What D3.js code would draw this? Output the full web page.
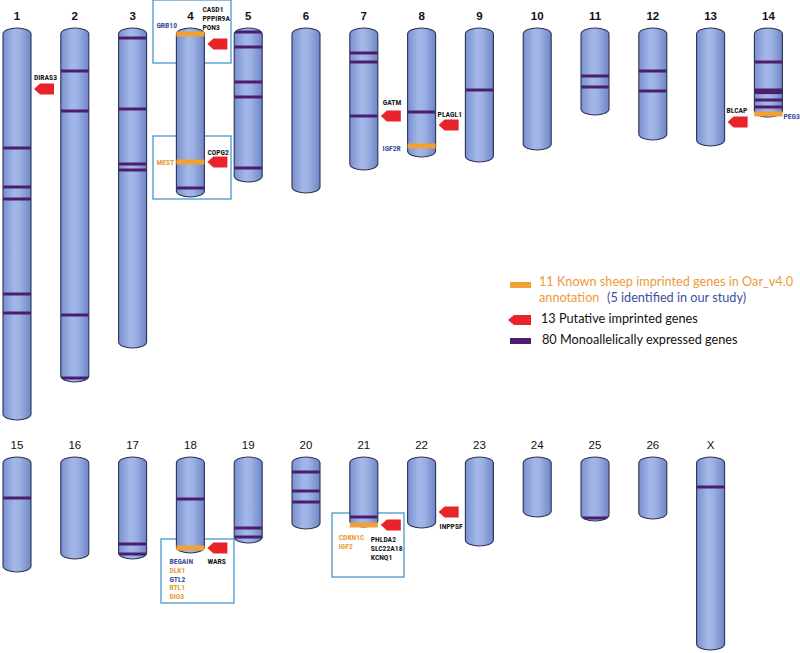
<!DOCTYPE html>
<html><head><meta charset="utf-8">
<script src="https://cdn.jsdelivr.net/npm/d3@7"></script>
<style>body{margin:0;background:#fff}svg{display:block}</style>
</head><body>
<script>
// ---- data (positions in Mb from the top of each chromosome) ----
const chromosomes = ["1","2","3","4","5","6","7","8","9","10","11","12","13","14",
                     "15","16","17","18","19","20","21","22","23","24","25","26","X"];
const lengths = [274.4,247.8,224,118.3,107.8,115.5,99.4,90.3,93.8,85.4,60.9,78.4,82.6,62.3,
                 80.5,71.4,71.4,67.2,60.2,50.4,49,49.7,62.3,42,44.8,43.4,135.1];
// monoallelically expressed genes (purple bands)
const monoChr = ["1","1","1","1","1","2","2","2","2","3","3","3","3","4",
                 "5","5","5","5","5","7","7","7","8","9","11","11","12","12",
                 "14","14","14","14","14","15","17","17","18","19","19","20","20","20","21","25","X"];
const monoPos = [84,111.3,119.7,186.2,199.5,30.1,58.1,200.9,245,7,56.7,95.2,99.4,112,
                 2.8,13.3,37.8,48.3,98,17.5,23.8,61.6,58.8,43.4,33.6,41.3,30.1,44.1,
                 23.8,43.4,45.2,50.4,55.3,28.7,60.9,67.9,29.4,49.7,56,10.5,23.8,31.5,42,42.7,21];
// known imprinted genes (orange bands)
const knownChr = ["4","4","8","14","18","21"];
const knownPos = [4.2,93.8,82.6,60.2,63.7,47.6];
const knownGenes = [["GRB10"],["MEST"],["IGF2R"],["PEG3"],["BEGAIN","DLK1","GTL2","RTL1","DIO3"],["CDKN1C","IGF2"]];
const knownIdentified = ["GRB10","IGF2R","PEG3","BEGAIN","GTL2"];
// putative imprinted genes (red arrows)
const putChr = ["1","4","4","7","8","13","18","21","22"];
const putPos = [42.7,11.2,93.8,61.6,67.9,65.8,63.7,47.6,38.5];
const putGenes = [["DIRAS3"],["CASD1","PPPIR9A","PON3"],["COPG2"],["GATM"],["PLAGL1"],["BLCAP"],["WARS"],["PHLDA2","SLC22A18","KCNQ1"],["INPPSF"]];
// legend
const legendText = ["11 Known sheep imprinted genes in Oar_v4.0","annotation","(5 identified in our study)",
                    "13 Putative imprinted genes","80 Monoallelically expressed genes"];

// ---- layout (styles / label placement) ----
const W = 800, H = 653, CW = 28;
const putLabelLayout = [ // dx from arrow start, dy of first line from arrow centre
  {dx:0, dy:-12}, {dx:-5, dy:-35}, {dx:0, dy:-10}, {dx:2, dy:-14}, {dx:-1, dy:-11},
  {dx:-1, dy:-12}, {dx:0, dy:13}, {dx:-10, dy:14}, {dx:1, dy:14}];
const knownLabelLayout = [ // dx from chromosome centre, dy from band
  {dx:-34, dy:-8.5}, {dx:-34, dy:0}, {dx:-39, dy:2.5},
  {dx:15, dy:2.5}, {dx:-21, dy:13.5}, {dx:-25, dy:12.5}];
const boxes = [ // [x0,y0,x1,y1]
  [153,0,231,63],[153,136,231,199],[161,539,234,603],[332,513,404,577]];

const COL_MONO = "#4e1c6e", COL_KNOWN = "#f0a035", COL_PUT = "#e8232a",
      COL_BLUE = "#3a4f9e", COL_ORANGE = "#ec9a3c", COL_BOX = "#4b96cf";

const svg = d3.select("body").append("svg").attr("width", W).attr("height", H);
const defs = svg.append("defs");
const grad = defs.append("linearGradient").attr("id","chrGrad").attr("x1","0").attr("x2","1").attr("y1","0").attr("y2","0");
grad.append("stop").attr("offset","0%").attr("stop-color","#7890cf");
grad.append("stop").attr("offset","40%").attr("stop-color","#a4b7e8");
grad.append("stop").attr("offset","60%").attr("stop-color","#9db1e4");
grad.append("stop").attr("offset","100%").attr("stop-color","#6e86c6");

const xScale = d3.scalePoint().domain(d3.range(14)).range([17, 768.4]);
const yTop = d3.scaleLinear().domain([0,280]).range([28, 428]);
const yBot = d3.scaleLinear().domain([0,280]).range([457, 857]);
const idx = c => chromosomes.indexOf(c);
const xOf = c => xScale(idx(c) < 14 ? idx(c) : idx(c) - 14);
const yOf = (c, v) => (idx(c) < 14 ? yTop : yBot)(v);

function chrPath(c) {
  const cx = xOf(c), x0 = cx - CW/2, x1 = cx + CW/2;
  const t = yOf(c, 0), b = yOf(c, lengths[idx(c)]), ry = 6, rx = CW/2;
  return `M${x0},${t+ry} A${rx},${ry} 0 0 1 ${x1},${t+ry} L${x1},${b-ry} A${rx},${ry} 0 0 1 ${x0},${b-ry} Z`;
}

// boxes
svg.append("g").selectAll("rect").data(boxes).join("rect")
  .attr("x", d=>d[0]).attr("y", d=>d[1]).attr("width", d=>d[2]-d[0]).attr("height", d=>d[3]-d[1])
  .attr("fill","none").attr("stroke",COL_BOX).attr("stroke-width",1.3);

// chromosome labels
svg.append("g").selectAll("text").data(chromosomes).join("text")
  .attr("x", c=>xOf(c)).attr("y", c=> idx(c) < 14 ? 20 : 449)
  .attr("text-anchor","middle").attr("font-family","Liberation Sans, Arial, sans-serif")
  .attr("font-size", 11.5).attr("font-weight", c=> idx(c) < 14 ? "bold" : "normal")
  .attr("fill","#111").text(c=>c);

// chromosomes with clip paths
chromosomes.forEach((c,i) => {
  defs.append("clipPath").attr("id","clip"+i).append("path").attr("d", chrPath(c));
});
const gChr = svg.append("g");
chromosomes.forEach((c,i) => {
  const g = gChr.append("g");
  g.append("path").attr("d", chrPath(c)).attr("fill","url(#chrGrad)");
  const inner = g.append("g").attr("clip-path", `url(#clip${i})`);
  monoChr.forEach((mc,j) => { if (mc===c) inner.append("rect")
      .attr("x", xOf(c)-CW/2).attr("y", yOf(c, monoPos[j])-1.5).attr("width", CW).attr("height", 3).attr("fill", COL_MONO); });
  g.append("path").attr("d", chrPath(c)).attr("fill","none").attr("stroke","#2c3352").attr("stroke-width",1.1);
  knownChr.forEach((kc,j) => { if (kc===c) g.append("rect")
      .attr("x", xOf(c)-CW/2).attr("y", yOf(c, knownPos[j])-2.5).attr("width", CW).attr("height", 5).attr("fill", COL_KNOWN); });
});

// known gene labels
const gLab = svg.append("g").attr("font-family","Liberation Sans Narrow, Roboto Condensed, Liberation Sans, sans-serif")
  .attr("font-size", 7.6).attr("font-weight","bold");
knownChr.forEach((c,j) => {
  const L = knownLabelLayout[j];
  knownGenes[j].forEach((g,k) => {
    gLab.append("text").attr("x", xOf(c)+L.dx).attr("y", yOf(c, knownPos[j]) + L.dy + 2.5 + k*8.8)
      .attr("fill", knownIdentified.includes(g) ? COL_BLUE : COL_ORANGE).text(g);
  });
});

// putative arrows
function arrowPts(x0, yc, w, h) {
  return [[x0, yc],[x0+6, yc-h/2],[x0+w, yc-h/2],[x0+w, yc+h/2],[x0+6, yc+h/2]];
}
putChr.forEach((c,j) => {
  const x0 = xOf(c) + CW/2 + 3, yc = yOf(c, putPos[j]);
  svg.append("polygon").attr("points", arrowPts(x0, yc, 20, 11).join(" ")).attr("fill", COL_PUT);
  const L = putLabelLayout[j];
  putGenes[j].forEach((g,k) => {
    gLab.append("text").attr("x", x0 + L.dx).attr("y", yc + L.dy + 2.5 + k*9.2).attr("fill","#1a1a1a").text(g);
  });
});

// legend
const lg = svg.append("g").attr("font-family","Lato, Open Sans, sans-serif").attr("font-size", 12.7);
lg.append("rect").attr("x",510).attr("y",282).attr("width",21).attr("height",6).attr("fill",COL_KNOWN);
lg.append("text").attr("x",539).attr("y",286).attr("fill",COL_ORANGE).text(legendText[0]);
lg.append("text").attr("x",539).attr("y",302).attr("fill",COL_ORANGE).text(legendText[1]);
lg.append("text").attr("x",607).attr("y",302).attr("fill",COL_BLUE).text(legendText[2]);
lg.append("polygon").attr("points", arrowPts(508, 320, 23, 10).join(" ")).attr("fill",COL_PUT);
lg.append("text").attr("x",541).attr("y",323).attr("fill","#111").text(legendText[3]);
lg.append("rect").attr("x",510).attr("y",338).attr("width",21).attr("height",6).attr("fill",COL_MONO);
lg.append("text").attr("x",542).attr("y",344).attr("fill","#111").text(legendText[4]);
</script>
</body></html>
